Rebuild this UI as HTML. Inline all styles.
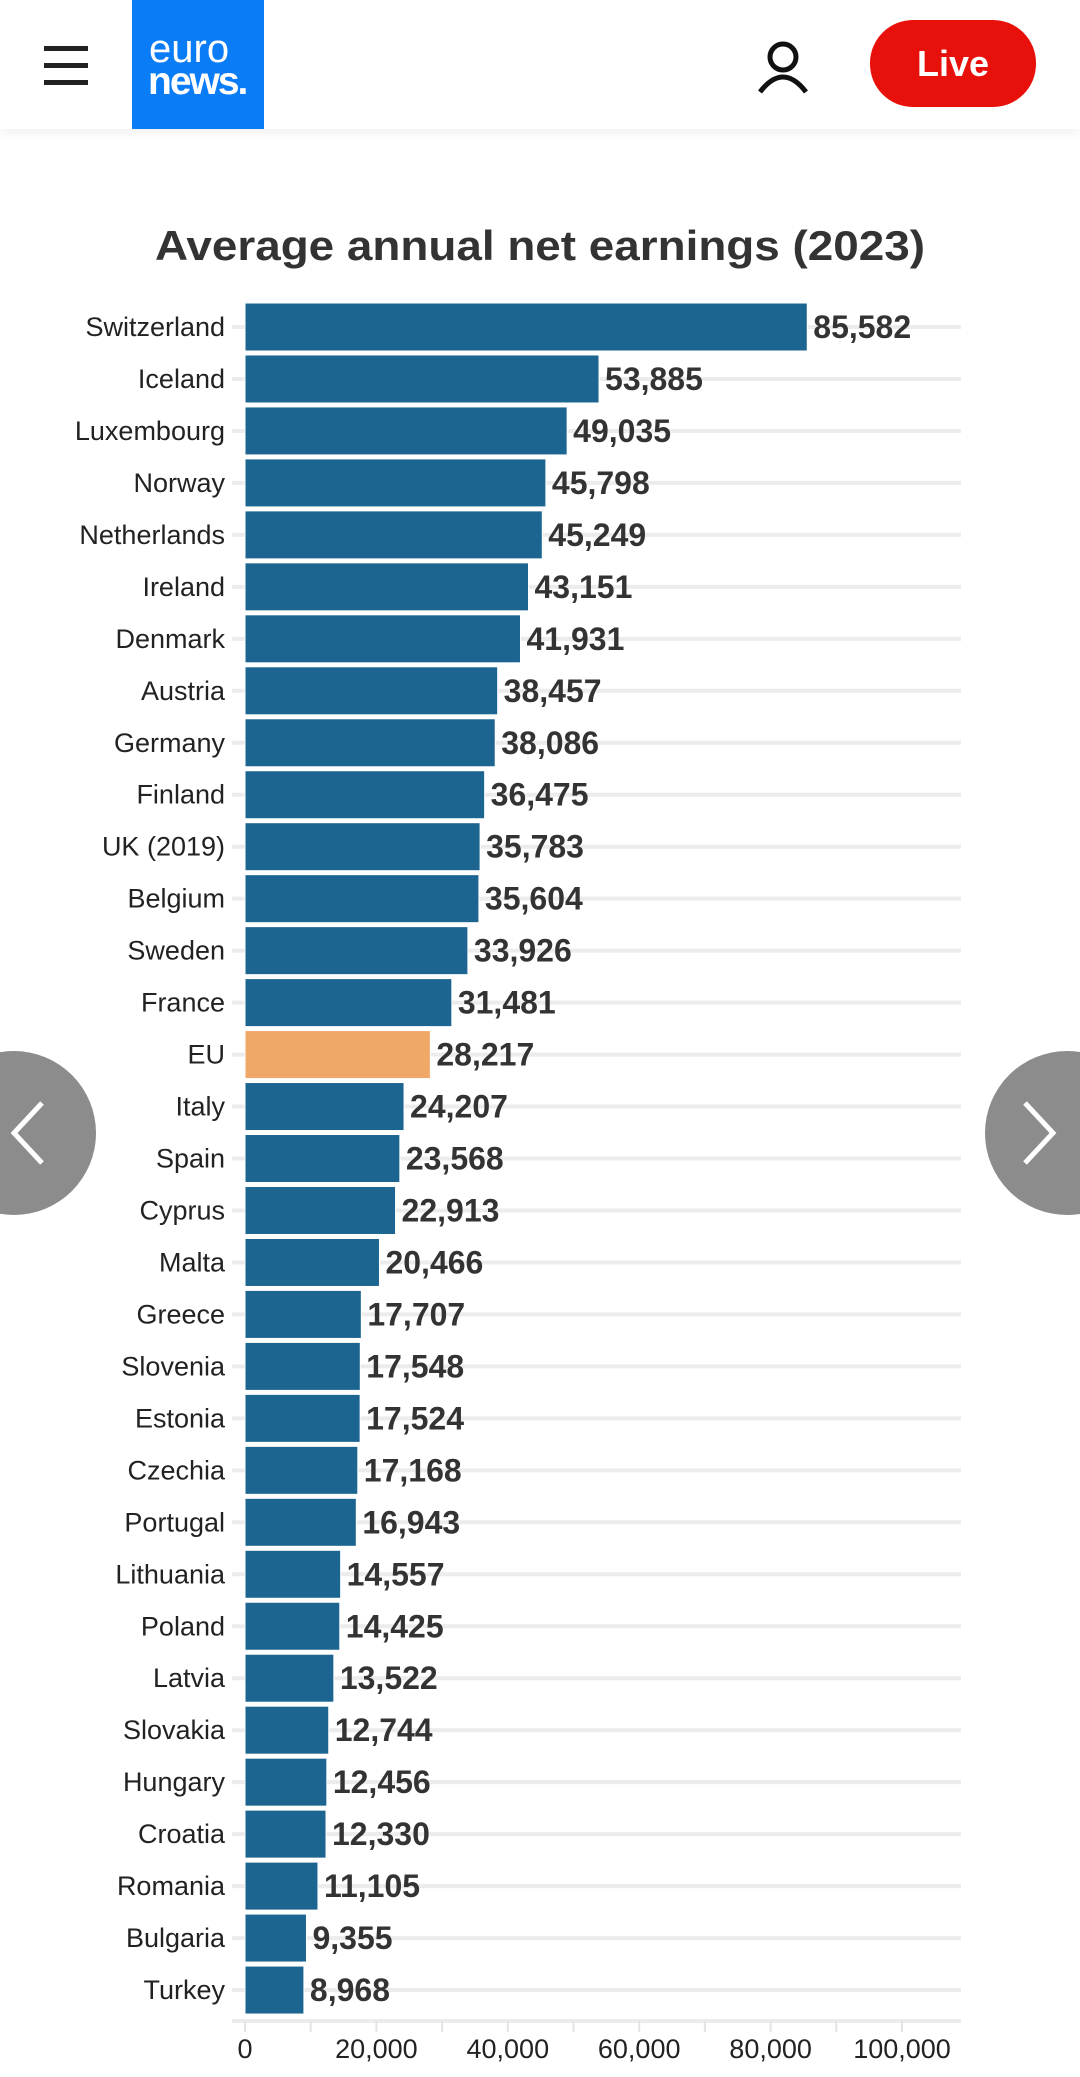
<!DOCTYPE html>
<html><head><meta charset="utf-8">
<style>
html,body{margin:0;padding:0;background:#fff;width:1080px;height:2077px;overflow:hidden;font-family:"Liberation Sans",sans-serif;position:relative;}
#hdr{position:absolute;left:0;top:0;width:1080px;height:129px;background:#fff;box-shadow:0 4px 10px rgba(0,0,0,0.06);}
#chart{position:absolute;left:0;top:0;}
#navwrap{position:absolute;left:0;top:0;width:1080px;height:2077px;overflow:hidden;pointer-events:none;}
.nav{position:absolute;width:164px;height:164px;border-radius:50%;background:#8c8c8c;top:1051px;pointer-events:auto;}
</style></head><body>
<div id="hdr">
  <svg width="1080" height="129">
    <g>
      <rect x="44" y="46" width="44" height="5" fill="#222"/><rect x="44" y="63" width="44" height="5" fill="#222"/><rect x="44" y="80" width="44" height="5" fill="#222"/>
    </g>
    <g>
      <rect x="132" y="0" width="132" height="129" fill="#0a7cf5"/>
      <text x="149" y="62" font-size="40" fill="#fff" font-family="Liberation Sans, sans-serif">euro</text>
      <text x="148" y="94" font-size="39" font-weight="bold" fill="#fff" font-family="Liberation Sans, sans-serif" letter-spacing="-2">news.</text>
    </g>
    <g fill="none" stroke="#111" stroke-width="5">
      <circle cx="783" cy="57" r="13"/><path d="M760 92 Q783 62 806 92"/>
    </g>
    <g>
      <rect x="870" y="20" width="166" height="87" rx="43" fill="#e8100a"/>
      <text x="953" y="76" text-anchor="middle" font-size="36" font-weight="bold" fill="#fff">Live</text>
    </g>
  </svg>
</div>
<svg id="chart" width="1080" height="2077"></svg>
<div id="navwrap">
<div class="nav" style="left:-68px">
  <svg width="164" height="164" style="position:absolute;left:0;top:0"><path d="M110 52 L82 82 L110 112" stroke="#fff" stroke-width="5" fill="none"/></svg>
</div>
<div class="nav" style="left:985px">
  <svg width="164" height="164" style="position:absolute;left:0;top:0"><path d="M40 52 L68 82 L40 112" stroke="#fff" stroke-width="5" fill="none"/></svg>
</div>
</div>
<script>
const categories=["Switzerland","Iceland","Luxembourg","Norway","Netherlands","Ireland","Denmark","Austria","Germany","Finland","UK (2019)","Belgium","Sweden","France","EU","Italy","Spain","Cyprus","Malta","Greece","Slovenia","Estonia","Czechia","Portugal","Lithuania","Poland","Latvia","Slovakia","Hungary","Croatia","Romania","Bulgaria","Turkey"];
const values=[85582,53885,49035,45798,45249,43151,41931,38457,38086,36475,35783,35604,33926,31481,28217,24207,23568,22913,20466,17707,17548,17524,17168,16943,14557,14425,13522,12744,12456,12330,11105,9355,8968];
const highlight=["EU"];
const tickValues=[0,20000,40000,60000,80000,100000];
const minorTicks=[0,10000,20000,30000,40000,50000,60000,70000,80000,90000,100000];
const NS="http://www.w3.org/2000/svg";
const svg=document.getElementById('chart');
const x0=245,pxPer=(902-245)/100000;
const xs=v=>x0+v*pxPer;
const rowTop=303,pitch=51.97;
const yc=i=>rowTop+pitch*i+24;
function mk(t,a){const e=document.createElementNS(NS,t);for(const k in a)e.setAttribute(k,a[k]);svg.appendChild(e);return e;}
const title=mk('text',{x:540,y:260,'text-anchor':'middle','font-size':42,'font-weight':'bold',fill:'#333',textLength:770,lengthAdjust:'spacingAndGlyphs'});
title.textContent="Average annual net earnings (2023)";


categories.forEach((c,i)=>{
  const g=mk('line',{x1:232,x2:961,y1:yc(i),y2:yc(i),stroke:'#ececec','stroke-width':4});
  
  
});
const axis=mk('line',{x1:232,x2:961,y1:2021,y2:2021,stroke:'#ececec','stroke-width':4});


minorTicks.forEach(v=>{
  const t=mk('line',{x1:xs(v),x2:xs(v),y1:2021,y2:2032,stroke:'#e4e4e4','stroke-width':2});
  
  
});
tickValues.forEach(v=>{
  const t=mk('text',{x:xs(v),y:2058,'text-anchor':'middle','font-size':27,fill:'#222'});
  t.textContent=v.toLocaleString('en-US');
  
  
});
categories.forEach((c,i)=>{
  const v=values[i];
  const b=mk('rect',{x:x0,y:yc(i)-24,width:xs(v)-x0,height:48,fill:highlight.includes(c)?'#f0a868':'#1c6591',stroke:'#fff','stroke-width':1});
  
  
  const l=mk('text',{x:225,y:yc(i)+9,'text-anchor':'end','font-size':27,fill:'#222'});
  l.textContent=c;
  
  
  const t=mk('text',{x:xs(v)+6,y:yc(i)+11,'font-size':32,'font-weight':'bold',fill:'#333'});
  t.textContent=v.toLocaleString('en-US');
  
  
});
</script>
</body></html>
